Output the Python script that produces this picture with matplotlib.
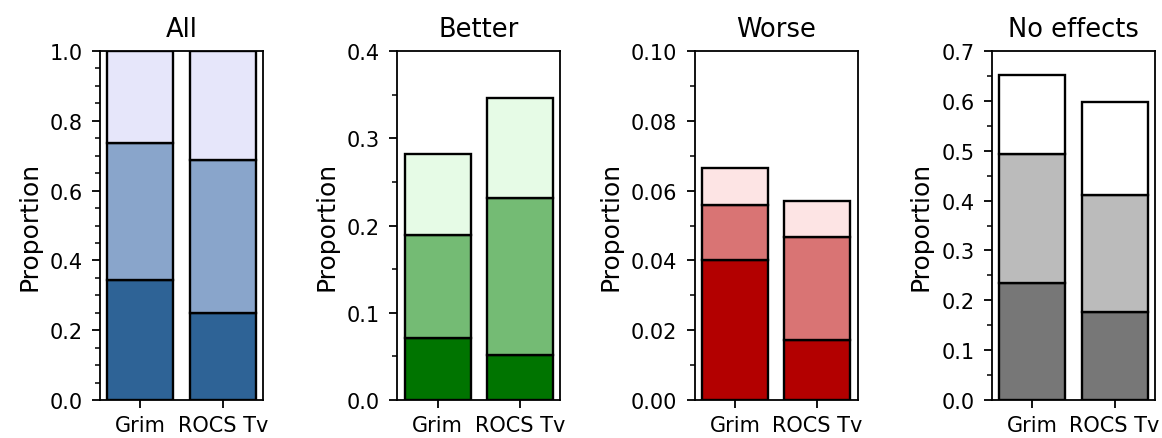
import numpy as np
import matplotlib
matplotlib.use("Agg")
import matplotlib.pyplot as plt
from matplotlib.ticker import MultipleLocator

# ---------------- Data ----------------
methods = ["Grim", "ROCS Tv"]
panels = ["All", "Better", "Worse", "No effects"]

# segment heights (bottom, middle, top) for each method
all_low = [0.345, 0.248]
all_mid = [0.391, 0.440]
all_top = [0.264, 0.312]

better_low = [0.071, 0.052]
better_mid = [0.118, 0.179]
better_top = [0.093, 0.115]

worse_low = [0.040, 0.0173]
worse_mid = [0.0158, 0.0294]
worse_top = [0.0106, 0.0102]

noeff_low = [0.234, 0.177]
noeff_mid = [0.260, 0.235]
noeff_top = [0.158, 0.185]

ylims = [1.0, 0.4, 0.1, 0.7]
major_steps = [0.2, 0.1, 0.02, 0.1]
minor_steps = [0.05, 0.05, 0.01, 0.05]

colors = [
    ["#2e6396", "#89a5cb", "#e6e6fa"],
    ["#007400", "#74bb74", "#e6fbe6"],
    ["#b30000", "#d97474", "#fde4e4"],
    ["#777777", "#bbbbbb", "#ffffff"],
]

segments = [
    (all_low, all_mid, all_top),
    (better_low, better_mid, better_top),
    (worse_low, worse_mid, worse_top),
    (noeff_low, noeff_mid, noeff_top),
]

# ---------------- Plot ----------------
fig, axes = plt.subplots(1, 4, figsize=(11.62, 4.39), dpi=100)
fig.subplots_adjust(left=0.0861, right=0.994, bottom=0.0866, top=0.8815, wspace=0.822)

x = np.arange(len(methods))
for ax, name, segs, cols, ymax, maj, mnr in zip(axes, panels, segments, colors,
                                               ylims, major_steps, minor_steps):
    bottom = np.zeros(len(methods))
    for seg, c in zip(segs, cols):
        ax.bar(x, seg, width=0.8, bottom=bottom, color=c,
               edgecolor="black", linewidth=1.7)
        bottom = bottom + np.array(seg)
    ax.set_ylim(0, ymax)
    ax.set_xticks(x)
    ax.set_xticklabels(methods)
    ax.yaxis.set_major_locator(MultipleLocator(maj))
    ax.yaxis.set_minor_locator(MultipleLocator(mnr))
    ax.tick_params(axis="both", which="major", labelsize=15, length=6, width=1.3)
    ax.tick_params(axis="y", which="major", pad=6.5)
    ax.tick_params(axis="x", which="major", pad=4.5)
    ax.tick_params(axis="y", which="minor", length=3.5, width=1.1)
    ax.set_ylabel("Proportion", fontsize=18, labelpad=6)
    ax.set_title(name, fontsize=18.5, pad=11)
    for s in ax.spines.values():
        s.set_linewidth(1.3)

fig.savefig("out.png", dpi=100)
